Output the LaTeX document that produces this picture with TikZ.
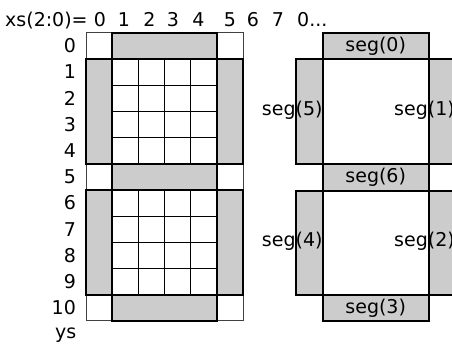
\documentclass[tikz,border=0pt]{standalone}
\usepackage{fontspec}
\setmainfont{DejaVu Sans}
\begin{document}
\begin{tikzpicture}[x=1pt,y=-1pt,
  thickbox/.style={draw=black,line width=1.8pt},
  thinline/.style={draw=black,line width=1pt},
  cornerbox/.style={draw=black!75,line width=1pt,fill=white},
  segfill/.style={fill=black!20},
  lbl/.style={font=\fontsize{19}{21}\selectfont,inner sep=0pt,text=black}]
\useasboundingbox (0,0) rectangle (452,347);
\clip (0,0) rectangle (452,347);
\fill[white] (0,0) rectangle (452,347);
% header
\node[lbl,anchor=base west] (hxs) at (5,26.5) {xs(2:0)=};
\foreach \d/\xx in {0/100,1/124,2/149.5,3/173,4/198.5,5/230,6/253,7/278}
  \node[lbl,anchor=base] (h\d) at (\xx,26.5) {\d};
\node[lbl,anchor=base west] (hrest) at (297,26.5) {0...};
% left grid
\begin{scope}[xshift=86pt,yshift=-32.7pt,x=26.2pt,y=-26.2pt]
  \foreach \r in {0,5,10} {
    \draw[cornerbox] (0,\r) rectangle (1,\r+1);
    \draw[cornerbox] (5,\r) rectangle (6,\r+1);
    \draw[thickbox,segfill] (1,\r) rectangle (5,\r+1);
  }
  \foreach \r in {1,6} {
    \fill[segfill] (0,\r) rectangle (1,\r+4);
    \fill[segfill] (5,\r) rectangle (6,\r+4);
    \foreach \k in {2,3,4} \draw[thinline] (\k,\r) -- (\k,\r+4);
    \foreach \k in {1,2,3} \draw[thinline] (1,\r+\k) -- (5,\r+\k);
    \draw[thickbox] (0,\r) rectangle (6,\r+4);
    \draw[thickbox] (1,\r) -- (1,\r+4);
    \draw[thickbox] (5,\r) -- (5,\r+4);
  }
  \foreach \j in {0,...,10}
    \node[lbl,anchor=east] (r\j) at (-0.38,\j+0.5) {\j};
  \node[lbl,anchor=east] (ys) at (-0.36,11.54) {ys};
\end{scope}
% seven segment
\draw[thickbox,segfill] (322.7,32.7) rectangle (428.7,59.3);
\draw[thickbox,segfill] (296,59.3) rectangle (322.7,164);
\draw[thickbox,segfill] (428.7,59.3) rectangle (455,164);
\draw[thickbox,segfill] (322.7,164) rectangle (428.7,190.7);
\draw[thickbox,segfill] (296,190.7) rectangle (322.7,295.3);
\draw[thickbox,segfill] (428.7,190.7) rectangle (455,295.3);
\draw[thickbox,segfill] (322.7,295.3) rectangle (428.7,321.3);
\node[lbl] (s0) at (375.7,46) {seg(0)};
\node[lbl] (s6) at (375.7,177.3) {seg(6)};
\node[lbl] (s3) at (375.7,308.3) {seg(3)};
\node[lbl,anchor=east] (s5) at (322.7,110) {seg(5)};
\node[lbl,anchor=east] (s1) at (455,110) {seg(1)};
\node[lbl,anchor=east] (s4) at (322.7,241) {seg(4)};
\node[lbl,anchor=east] (s2) at (455,241) {seg(2)};
\end{tikzpicture}
\end{document}
